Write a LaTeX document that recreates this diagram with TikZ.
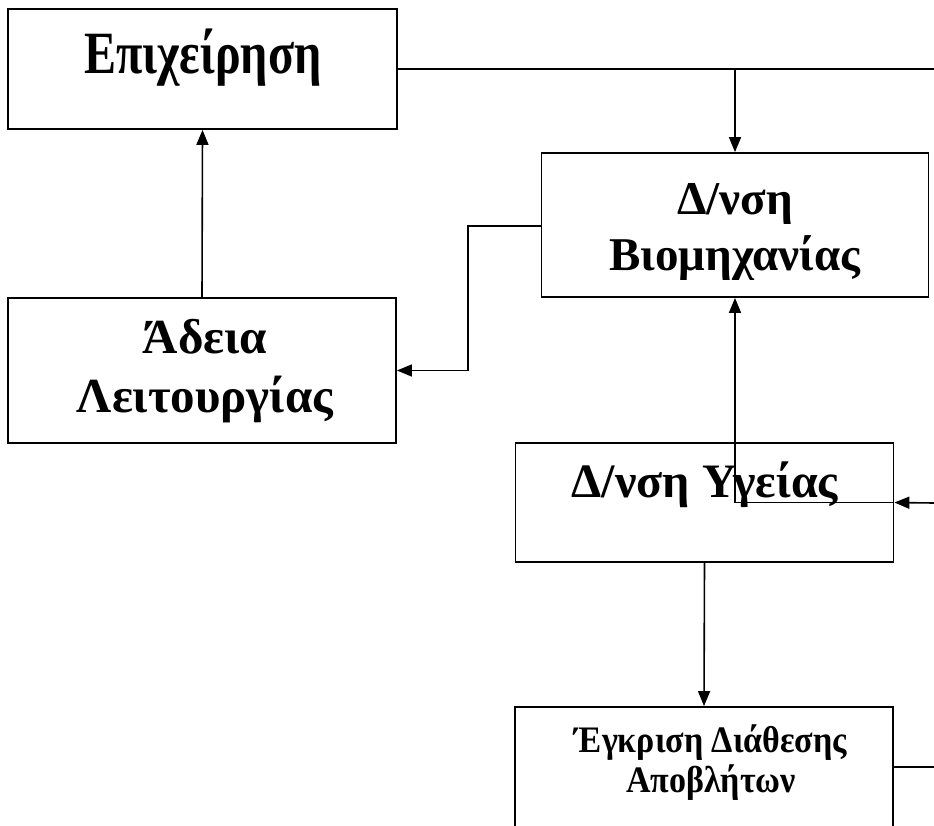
\documentclass[tikz,border=0pt]{standalone}
\usepackage{fontspec}
\setmainfont{Liberation Serif}
\usetikzlibrary{arrows.meta,positioning}

\tikzset{
  box/.style={draw, line width=1.8pt, rectangle, inner sep=0pt},
  conn/.style={line width=1.6pt, -{Triangle[length=15pt,width=12pt]}},
  wire/.style={line width=1.6pt},
  lbl/.style={align=center, inner sep=0pt, font=\bfseries},
}

\begin{document}
\begin{tikzpicture}[x=1pt,y=-1pt]
  \useasboundingbox (0,0) rectangle (934,825);

  % boxes
  \node[box, minimum width=389pt, minimum height=120pt] (epix) at (202.5,69) {};
  \node[box, minimum width=387pt, minimum height=144pt] (viom) at (735,225) {};
  \node[box, minimum width=388pt, minimum height=145pt] (adeia) at (202,370.5) {};
  \node[box, minimum width=378pt, minimum height=119pt] (ygeia) at (704.5,502.5) {};
  \node[box, minimum width=378pt, minimum height=140pt] (egkr) at (704,777) {};

  % texts (base = last line)
  \node[lbl, anchor=base, font=\bfseries\fontsize{48}{54}\selectfont] (epixT) at (203,73)
    {\scalebox{1}[1.25]{Επιχείρηση}};
  \node[lbl, anchor=base, font=\bfseries\fontsize{47}{56}\selectfont] (viomT) at (735,270)
    {Δ/νση\\Βιομηχανίας};
  \node[lbl, anchor=base, font=\bfseries\fontsize{49}{59}\selectfont] (adeiaT) at (205,412)
    {Άδεια\\Λειτουργίας};
  \node[lbl, anchor=base, font=\bfseries\fontsize{48}{54}\selectfont] (ygeiaT) at (705,497) {Δ/νση Υγείας};
  \node[lbl, anchor=base, font=\bfseries\fontsize{34}{40}\selectfont] (egkrT) at (711,792)
    {\scalebox{1}[1.1]{Έγκριση Διάθεσης}\\\scalebox{1}[1.1]{Αποβλήτων}};

  % connectors
  \coordinate (topR) at (934,69);
  \coordinate (midR) at (934,503);
  \coordinate (lowR) at (934,767);
  \coordinate (kink) at (468,226);

  \draw[wire] (epix.east) -- (topR);
  \draw[conn] (epix.east -| viom.north) -- (viom.north);
  \draw[conn] (adeia.north) -- (epix.south);
  \draw[conn] (viom.west |- kink) -- (kink) |- (adeia.east);
  \draw[conn] (midR) -- (ygeia.east);
  \draw[conn] (ygeia.east) -- (ygeia.east -| viom.south) -- (viom.south);
  \draw[conn] (ygeia.south) -- (egkr.north);
  \draw[wire] (egkr.east |- lowR) -- (lowR);
\end{tikzpicture}
\end{document}
